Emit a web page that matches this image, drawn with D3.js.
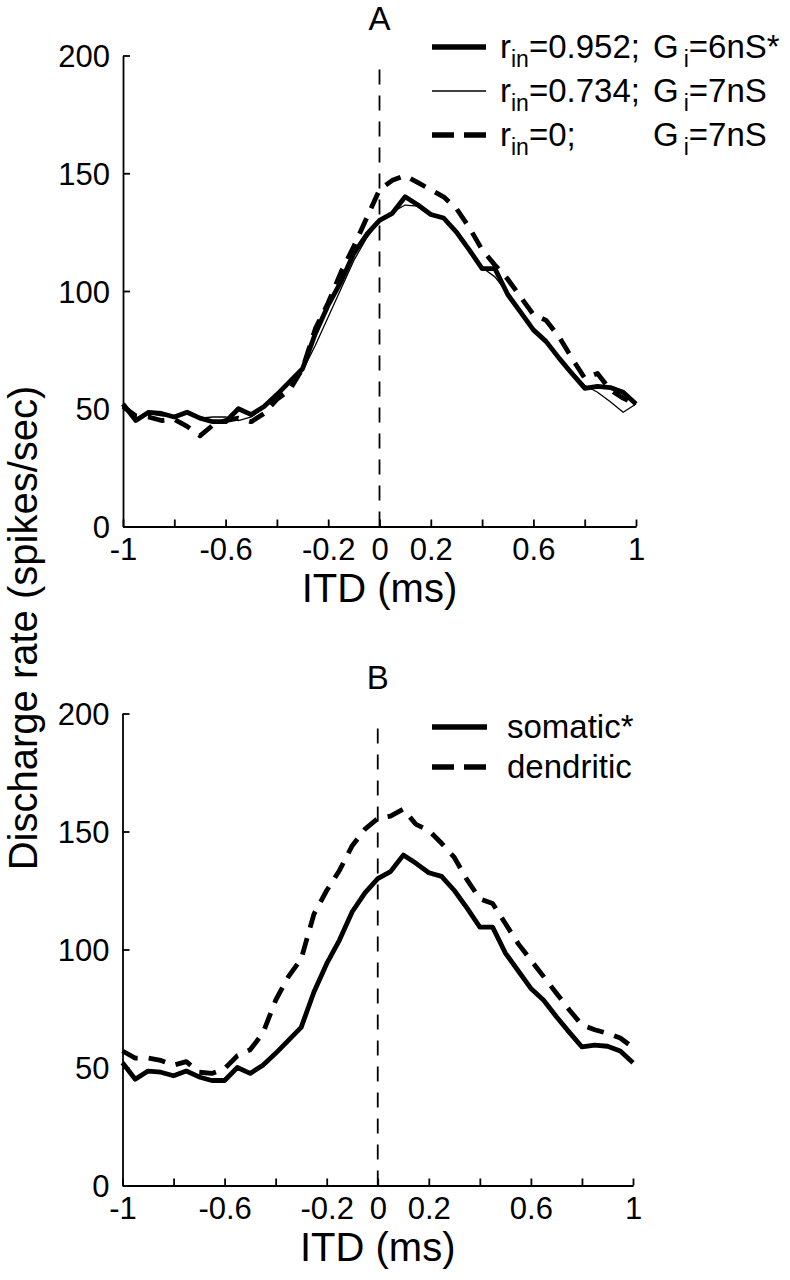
<!DOCTYPE html>
<html>
<head>
<meta charset="utf-8">
<script src="https://cdn.jsdelivr.net/npm/d3@7"></script>
<style>
  html, body { margin: 0; padding: 0; background: #fff; }
  svg { display: block; font-family: "Liberation Sans", Arial, Helvetica, sans-serif; }
</style>
</head>
<body>
<svg id="chart" width="790" height="1280"></svg>
<script>
// ITD sample points (ms)
const itd = [-1, -0.95, -0.9, -0.85, -0.8, -0.75, -0.7, -0.65, -0.6, -0.55, -0.5, -0.45, -0.4, -0.35, -0.3, -0.25, -0.2, -0.15, -0.1, -0.05,
             0, 0.05, 0.1, 0.15, 0.2, 0.25, 0.3, 0.35, 0.4, 0.45, 0.5, 0.55, 0.6, 0.65, 0.7, 0.75, 0.8, 0.85, 0.9, 0.95, 1];

// Panel A: r_in=0.952; G_i=6nS* (thick solid) — also "somatic*" in panel B
const somatic = [52, 45, 48.5, 48, 46.5, 48.5, 46, 44.5, 44.5, 50, 47.5, 51, 56, 61.5, 67, 82, 94, 104, 116, 124,
                 130, 133, 140, 136.5, 132.5, 131, 125, 117.5, 109.5, 109.5, 98.5, 91, 83.5, 78.5, 71.5, 65, 58.7, 59.5, 59, 57, 52];
// Panel A: r_in=0.734; G_i=7nS (thin solid)
const rin734 = [50, 46, 48, 47, 47, 48, 46, 46.5, 46.5, 45, 46.5, 50.5, 55.5, 61, 66, 77, 89, 101, 113, 122.5,
                130, 133.5, 136.5, 136, 132, 130.5, 125, 117, 110, 106, 99, 92, 84, 79, 72, 66, 60, 57, 53, 48.5, 52];
// Panel A: r_in=0; G_i=7nS (thick dashed)
const rin0 = [51, 47, 46.5, 45, 45.5, 42.5, 38.5, 43, 45, 46, 44.5, 48, 54, 58, 67, 84, 95, 108, 119, 131,
              143, 147, 149, 146, 143, 140, 135, 127, 117.5, 111, 105, 97.5, 90, 87.5, 80.5, 71.5, 63, 65, 58, 54.5, 52];
// Panel B: dendritic (thick dashed)
const dendritic = [57, 54, 54, 53, 51, 52.5, 48, 47.5, 49.5, 55, 57.5, 64.5, 78.5, 88.5, 96, 115, 125, 133.5, 144, 151,
                   155.5, 156.5, 159.5, 153, 150.5, 145, 139, 129.5, 121.5, 119.5, 111, 102.5, 95.5, 88.5, 81.5, 74.5, 68, 66, 64.5, 62.5, 58.5];

const xTicks = [-1, -0.8, -0.6, -0.4, -0.2, 0, 0.2, 0.4, 0.6, 0.8, 1];
const xTickLabels = ["-1", "", "-0.6", "", "-0.2", "0", "0.2", "", "0.6", "", "1"];
const yTicks = [0, 50, 100, 150, 200];
const yTickLabels = ["0", "50", "100", "150", "200"];

const svg = d3.select("#chart");

function panel(cfg) {
  const x = d3.scaleLinear().domain([-1, 1]).range(cfg.xr);
  const y = d3.scaleLinear().domain([0, 200]).range(cfg.yr);
  const g = svg.append("g");

  const xAxis = d3.axisBottom(x).tickValues(xTicks).tickSizeInner(-7).tickSizeOuter(0)
    .tickFormat((d, i) => xTickLabels[i]).tickPadding(11);
  const gx = g.append("g").attr("transform", `translate(0,${cfg.yr[0]})`).call(xAxis);
  const yAxis = d3.axisLeft(y).tickValues(yTicks).tickSizeInner(-7).tickSizeOuter(0)
    .tickFormat((d, i) => yTickLabels[i]).tickPadding(13);
  const gy = g.append("g").attr("transform", `translate(${cfg.xr[0]},0)`).call(yAxis);

  [gx, gy].forEach(a => {
    a.select(".domain").attr("stroke", "#000").attr("stroke-width", 1.8);
    a.selectAll(".tick line").attr("stroke", "#000").attr("stroke-width", 1.8);
    a.selectAll(".tick text").attr("fill", "#000").style("font-size", "31px")
      .style("font-family", '"Liberation Sans", Arial, sans-serif');
  });
  gx.selectAll(".tick text").attr("dy", "0.71em");
  gy.selectAll(".tick text").attr("dy", "0.36em");

  // vertical dashed line at ITD = 0
  g.append("line")
    .attr("x1", x(0)).attr("x2", x(0))
    .attr("y1", y(0)).attr("y2", y(cfg.vTop))
    .attr("stroke", "#000").attr("stroke-width", 1.8)
    .attr("stroke-dasharray", "15,11");

  const line = d3.line().x((d, i) => x(itd[i])).y(d => y(d));
  cfg.series.forEach(s => {
    g.append("path").datum(s.values)
      .attr("d", line)
      .attr("fill", "none").attr("stroke", "#000")
      .attr("stroke-width", s.w)
      .attr("stroke-linejoin", "round")
      .attr("stroke-dasharray", s.dash || null);
  });

  // title
  g.append("text").attr("x", x(0)).attr("y", cfg.titleY)
    .attr("text-anchor", "middle").style("font-size", "33px").text(cfg.title);

  // x label
  g.append("text").attr("x", (cfg.xr[0] + cfg.xr[1]) / 2).attr("y", cfg.xlabY)
    .attr("text-anchor", "middle").style("font-size", "40px").text("ITD (ms)");

  return { x, y, g };
}

const A = panel({
  xr: [123, 636], yr: [526.5, 55.5], vTop: 195, title: "A", titleY: 30, xlabY: 602,
  series: [
    { values: rin0, w: 4.8, dash: "17,11" },
    { values: rin734, w: 1.3 },
    { values: somatic, w: 4.8 }
  ]
});
const B = panel({
  xr: [122.5, 633], yr: [1185.5, 713.5], vTop: 194, title: "B", titleY: 689, xlabY: 1261,
  series: [
    { values: dendritic, w: 4.8, dash: "17,11" },
    { values: somatic, w: 4.8 }
  ]
});

// Legend A
const legA = [
  { w: 5.5, dash: null, main: "=0.952;", g: "=6nS*", y: 47 },
  { w: 1.3, dash: null, main: "=0.734;", g: "=7nS", y: 91 },
  { w: 5.5, dash: "22,10", main: "=0;", g: "=7nS", y: 135 }
];
legA.forEach(r => {
  svg.append("line").attr("x1", 432).attr("x2", 486).attr("y1", r.y).attr("y2", r.y)
    .attr("stroke", "#000").attr("stroke-width", r.w).attr("stroke-dasharray", r.dash);
  const t1 = svg.append("text").attr("x", 500).attr("y", r.y + 11).style("font-size", "33px");
  t1.append("tspan").text("r");
  t1.append("tspan").attr("dy", 9).style("font-size", "23px").text("in");
  t1.append("tspan").attr("dy", -9).text(r.main);
  const t2 = svg.append("text").attr("x", 653).attr("y", r.y + 11).style("font-size", "33px");
  t2.append("tspan").text("G");
  t2.append("tspan").attr("dx", 5).attr("dy", 9).style("font-size", "23px").text("i");
  t2.append("tspan").attr("dy", -9).text(r.g);
});

// Legend B
const legB = [
  { w: 5.5, dash: null, label: "somatic*", y: 727 },
  { w: 5.5, dash: "22,10", label: "dendritic", y: 767 }
];
legB.forEach(r => {
  svg.append("line").attr("x1", 432).attr("x2", 487).attr("y1", r.y).attr("y2", r.y)
    .attr("stroke", "#000").attr("stroke-width", r.w).attr("stroke-dasharray", r.dash);
  svg.append("text").attr("x", 507).attr("y", r.y + 11).style("font-size", "33px").text(r.label);
});

// shared y label
svg.append("text")
  .attr("transform", "translate(37,628) rotate(-90)")
  .attr("text-anchor", "middle").style("font-size", "40px")
  .text("Discharge rate (spikes/sec)");
</script>
</body>
</html>
